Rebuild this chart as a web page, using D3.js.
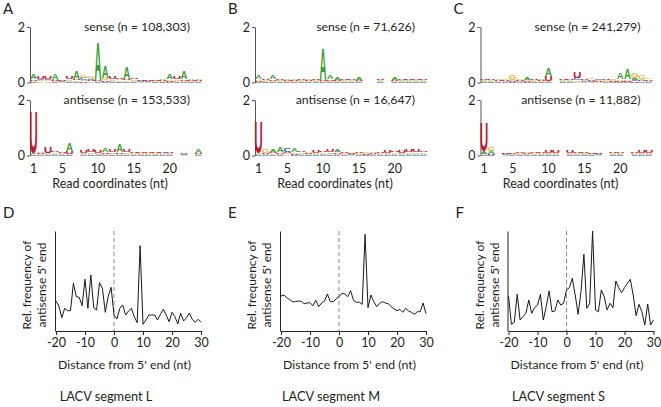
<!DOCTYPE html>
<html>
<head>
<meta charset="utf-8">
<script src="https://cdn.jsdelivr.net/npm/d3@7"></script>
<style>
  body { margin: 0; background: #fff; }
  svg { display: block; font-family: Lato, "Open Sans", sans-serif; }
</style>
</head>
<body>
<div class="figure"></div>
<script>
/* ---------- data ---------- */
const positions = d3.range(1, 25);          // read coordinates 1..24
const bases = ["A", "C", "G", "U"];
const logoTicks = [1, 5, 10, 15, 20];

// bits per base at each read position, columns = A, C, G, U
const senseL = [
  [.18,.03,.04,.06],[.05,.05,.04,.10],[.04,.06,.04,.08],[.22,.02,.04,.04],[.02,.02,.02,.02],
  [.05,.03,.04,.10],[.30,.02,.06,.06],[.05,.08,.10,.04],[.04,.06,.10,.04],[1.38,.02,.03,.04],
  [.42,.02,.08,.06],[.05,.03,.04,.08],[.06,.03,.05,.06],[.44,.02,.06,.06],[.05,.02,.04,.06],
  [.02,.02,.02,.03],[.02,.02,.02,.02],[.03,.02,.02,.02],[.04,.02,.03,.03],[.20,.02,.05,.04],
  [.06,.02,.05,.08],[.30,.02,.05,.06],[.05,.02,.04,.04],[.04,.02,.03,.03]
];
const antisenseL = [
  [.04,.02,.02,1.52],[.04,.02,.03,.03],[.04,.02,.04,.22],[.05,.02,.04,.05],[.04,.02,.04,.06],
  [.30,.02,.04,.10],[.01,.01,.01,.01],[.04,.02,.03,.10],[.05,.02,.04,.08],[.04,.02,.04,.10],
  [.16,.02,.04,.06],[.05,.02,.04,.08],[.26,.02,.05,.06],[.06,.02,.04,.09],[.04,.02,.04,.05],
  [.03,.02,.03,.04],[.04,.02,.03,.05],[.03,.02,.03,.04],[.04,.02,.03,.05],[.04,.02,.03,.06],
  [.01,.01,.01,.01],[.02,.02,.03,.02],[.01,.01,.01,.01],[.16,.02,.04,.04]
];
const senseM = [
  [.14,.02,.05,.04],[.04,.02,.04,.05],[.14,.02,.04,.06],[.04,.02,.03,.04],[.05,.02,.04,.04],
  [.06,.02,.04,.04],[.04,.02,.03,.04],[.06,.02,.04,.04],[.03,.02,.03,.03],[1.15,.02,.03,.04],
  [.14,.02,.04,.05],[.08,.02,.04,.04],[.03,.02,.03,.03],[.04,.02,.04,.04],[.08,.02,.04,.04],
  [.01,.01,.01,.01],[.01,.01,.01,.01],[.03,.02,.03,.03],[.01,.01,.01,.01],[.08,.02,.04,.04],
  [.04,.02,.03,.04],[.03,.02,.03,.03],[.03,.02,.03,.03],[.03,.02,.03,.03]
];
const antisenseM = [
  [.03,.02,.03,1.16],[.04,.02,.12,.04],[.08,.02,.06,.06],[.20,.02,.05,.05],[.04,.14,.04,.04],
  [.12,.02,.05,.04],[.05,.02,.04,.05],[.04,.02,.05,.04],[.04,.02,.04,.10],[.05,.02,.05,.06],
  [.06,.02,.05,.08],[.08,.02,.05,.05],[.03,.02,.03,.03],[.02,.02,.02,.02],[.03,.02,.03,.03],
  [.04,.02,.04,.03],[.05,.02,.04,.04],[.04,.02,.04,.06],[.04,.02,.04,.10],[.05,.02,.04,.05],
  [.03,.02,.04,.07],[.04,.02,.05,.08],[.05,.02,.05,.09],[.04,.02,.06,.06]
];
const senseS = [
  [.03,.02,.03,.03],[.03,.02,.03,.04],[.04,.02,.03,.03],[.03,.02,.04,.03],[.04,.02,.20,.03],
  [.03,.02,.04,.03],[.08,.03,.04,.03],[.03,.02,.03,.03],[.04,.02,.03,.03],[.30,.02,.03,.20],
  [.01,.01,.01,.01],[.03,.02,.03,.03],[.03,.02,.03,.04],[.05,.08,.03,.22],[.03,.03,.03,.04],
  [.03,.04,.05,.04],[.03,.06,.04,.03],[.03,.02,.03,.03],[.05,.02,.04,.03],[.25,.02,.05,.04],
  [.38,.02,.06,.05],[.08,.05,.20,.04],[.06,.04,.14,.04],[.04,.03,.06,.04]
];
const antisenseS = [
  [.10,.02,.03,1.05],[.12,.02,.14,.04],[.01,.01,.01,.01],[.02,.02,.02,.02],[.03,.02,.02,.02],
  [.03,.02,.03,.03],[.05,.02,.03,.03],[.03,.02,.03,.03],[.03,.02,.03,.04],[.04,.02,.04,.10],
  [.03,.02,.03,.08],[.01,.01,.01,.01],[.03,.02,.03,.08],[.03,.02,.03,.05],[.03,.02,.03,.03],
  [.03,.02,.02,.03],[.02,.02,.02,.02],[.01,.01,.01,.01],[.03,.02,.03,.04],[.03,.02,.03,.06],
  [.01,.01,.01,.01],[.03,.02,.04,.06],[.04,.02,.04,.08],[.03,.02,.04,.08]
];
const senseCounts = ["108,303", "71,626", "241,279"];
const antisenseCounts = ["153,533", "16,647", "11,882"];

const distance = d3.range(-20, 31);          // distance from 5' end (nt)
const distTicks = [-20, -10, 0, 10, 20, 30];
const relFreqL = [30,25,13.3,22.7,20.3,20.3,47.7,34.3,33.7,25.3,
  51.7,22.7,56,23.3,21,48.3,42.7,18.7,34.3,43.7,
  16,12,22.7,26,16,20,22.7,14.3,8.3,85.3,
  6.7,11,16,16,16,11,16.7,21.7,16,9.3,
  18.7,14.3,7,17.7,10,13.3,18,11.7,8.7,11.7,8.7];
const relFreqM = [35,36,33.3,31.3,29.3,29.3,30,29.7,27.3,28,
  28.3,25.3,30.7,24.3,28,30,37,29.3,29.3,32,
  34.3,37.7,37,34.3,40.3,30.7,28.7,28.7,26.7,96.7,
  23.3,36,29.3,24.3,27.7,29.3,28,27.3,24.3,22,
  20.3,21.7,18.7,22.7,20,18.7,16.7,19.3,19.3,28,17.3];
const relFreqS = [35,6.7,8.7,36.7,11,14.3,17.7,31,17.7,23.3,
  26,36.7,11,24.3,40,19.3,20,31,26,27.7,
  41,43.3,52.7,36,16.7,39.3,76.7,22.7,27.7,100,
  21,19.3,41,34.3,21,27.7,23.3,50,43.3,38.3,
  43.3,47.7,51.7,36,15.3,26.7,19.3,6,27,6,11];
const segments = ["L", "M", "S"];
const topLetters = ["A", "B", "C"];
const bottomLetters = ["D", "E", "F"];

/* ---------- layout ---------- */
const width = 661, height = 407;
const svg = d3.select(".figure").append("svg")
    .attr("width", width)
    .attr("height", height)
    .attr("viewBox", [0, 0, width, height]);

const baseColor = {A: "#3c9f35", C: "#3453b8", G: "#eeb43a", U: "#c11b33"};
const inkW = {A: 0.71, C: 0.63, G: 0.68, U: 0.58};   // glyph ink width in em (bold sans)
const logoX = [30, 255, 480.5];
const plotX = [55, 280, 507.5];
const logoW = 172;
const textCol = "#231f20";

const sense = [senseL, senseM, senseS];
const antisense = [antisenseL, antisenseM, antisenseS];
const relFreq = [relFreqL, relFreqM, relFreqS];

function drawLogo(g, rows, y0, title) {
    const x = d3.scaleBand().domain(positions).range([0, logoW]);
    const y = d3.scaleLinear().domain([0, 2]).range([y0, y0 - 55.5]);

    const ax = g.append("g")
        .call(d3.axisLeft(y).tickValues([0, 2]).tickFormat(d3.format("d"))
            .tickSize(3).tickSizeOuter(0).tickPadding(2));
    ax.select(".domain").attr("stroke", "#555");
    ax.selectAll(".tick line").attr("stroke", "#555");
    ax.selectAll(".tick text").attr("font-size", 12.5).attr("fill", textCol)
        .attr("font-family", "Lato, sans-serif");

    const cols = g.append("g").selectAll("g")
        .data(rows)
        .join("g")
        .attr("transform", (d, i) => `translate(${x(positions[i]) + x.bandwidth() / 2},0)`);

    cols.each(function(row) {
        // smallest at the bottom, biggest on top
        const stack = bases.map((b, k) => ({base: b, bits: row[k]}))
            .sort((a, b) => a.bits - b.bits);
        let acc = 0;
        stack.forEach(s => { s.lo = acc; acc += s.bits; s.hi = acc; });

        d3.select(this).selectAll("text")
            .data(stack.filter(s => y(s.lo) - y(s.hi) > 0.5))
            .join("text")
            .attr("transform", s => `translate(0,${y(s.lo)}) scale(${x.bandwidth() * 0.95 / (inkW[s.base] * 100)},${(y(s.lo) - y(s.hi)) / 71.6})`)
            .attr("text-anchor", "middle")
            .attr("font-family", "'Liberation Sans', Arial, sans-serif")
            .attr("font-weight", "bold")
            .attr("font-size", 100)
            .attr("fill", s => baseColor[s.base])
            .text(s => s.base);
    });

    g.append("text")
        .attr("x", 160).attr("y", y0 - 52)
        .attr("text-anchor", "end")
        .attr("font-size", 12.3)
        .attr("fill", textCol)
        .text(title);
    return x;
}

/* ---------- top row: sequence logos ---------- */
topLetters.forEach((letter, i) => {
    const g = svg.append("g").attr("transform", `translate(${logoX[i]},0)`);
    drawLogo(g, sense[i], 82.5, `sense (n = ${senseCounts[i]})`);
    const x = drawLogo(g, antisense[i], 155.5, `antisense (n = ${antisenseCounts[i]})`);

    const xa = g.append("g").attr("transform", "translate(0,160)")
        .call(d3.axisBottom(x).tickValues(logoTicks).tickSize(0).tickPadding(4));
    xa.select(".domain").remove();
    xa.selectAll(".tick text").attr("font-size", 12.5).attr("fill", textCol)
        .attr("font-family", "Lato, sans-serif");

    g.append("text")
        .attr("x", 80).attr("y", 188)
        .attr("text-anchor", "middle")
        .attr("font-size", 12.5)
        .attr("fill", textCol)
        .text("Read coordinates (nt)");

    svg.append("text")
        .attr("x", logoX[i] - 27).attr("y", 14)
        .attr("font-size", 15)
        .attr("fill", textCol)
        .text(letter);
});

/* ---------- bottom row: 5' end distance ---------- */
bottomLetters.forEach((letter, i) => {
    const ax0 = plotX[i];
    const x = d3.scaleLinear().domain([-20, 30]).range([ax0 + 1, ax0 + 146]);
    const y = d3.scaleLinear().domain([0, 100]).range([331, 231]);

    const ya = svg.append("g").attr("transform", `translate(${ax0},0)`)
        .call(d3.axisLeft(y).tickValues([]).tickSizeOuter(0));
    ya.select(".domain").attr("stroke", "#222");

    const xa = svg.append("g").attr("transform", "translate(0,331)")
        .call(d3.axisBottom(x).tickValues(distTicks).tickSize(4).tickSizeOuter(0)
            .tickPadding(3).tickFormat(d => String(d)));
    xa.select(".domain").attr("stroke", "#222");
    xa.selectAll(".tick line").attr("stroke", "#222");
    xa.selectAll(".tick text").attr("font-size", 12.5).attr("fill", textCol)
        .attr("font-family", "Lato, sans-serif");

    svg.append("line")
        .attr("x1", x(0)).attr("x2", x(0))
        .attr("y1", y(100)).attr("y2", y(0))
        .attr("stroke", "#8a8a8a")
        .attr("stroke-dasharray", "4,3");

    const line = d3.line()
        .x((d, k) => x(distance[k]))
        .y(d => y(d));

    svg.append("path")
        .datum(relFreq[i])
        .attr("d", line)
        .attr("fill", "none")
        .attr("stroke", "#1a1a1a")
        .attr("stroke-width", 1);

    // rotated two-line y label
    const yl = svg.append("text")
        .attr("transform", `translate(${ax0 - 24},285) rotate(-90)`)
        .attr("text-anchor", "middle")
        .attr("font-size", 12)
        .attr("fill", textCol);
    yl.append("tspan").attr("x", 0).attr("y", 0).text("Rel. frequency of");
    yl.append("tspan").attr("x", 0).attr("y", 15).text("antisense 5' end");

    svg.append("text")
        .attr("x", (x.range()[0] + x.range()[1]) / 2 - 4).attr("y", 369)
        .attr("text-anchor", "middle")
        .attr("font-size", 12.3)
        .attr("fill", textCol)
        .text("Distance from 5' end (nt)");

    svg.append("text")
        .attr("x", ax0 + 51).attr("y", 401)
        .attr("text-anchor", "middle")
        .attr("font-size", 12.8)
        .attr("fill", textCol)
        .text(`LACV segment ${segments[i]}`);

    svg.append("text")
        .attr("x", ax0 - 52).attr("y", 218)
        .attr("font-size", 15)
        .attr("fill", textCol)
        .text(letter);
});
</script>
</body>
</html>
